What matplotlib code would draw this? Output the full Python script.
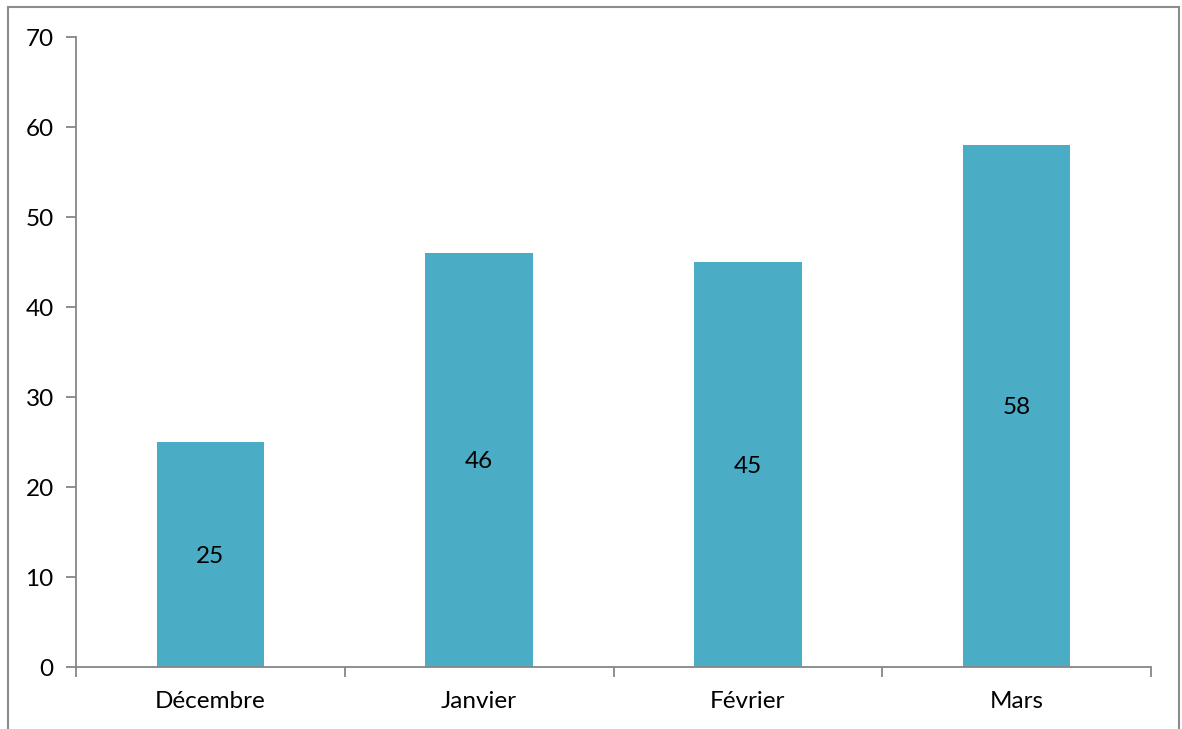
import numpy as np
import matplotlib
matplotlib.use('Agg')
import matplotlib.pyplot as plt
from matplotlib.lines import Line2D

months = ['Décembre', 'Janvier', 'Février', 'Mars']
values = [25, 46, 45, 58]

plt.rcParams['font.family'] = ['Lato', 'DejaVu Sans']

W, H = 1182, 729
fig = plt.figure(figsize=(W / 100, H / 100), dpi=100)
ax = fig.add_axes([76 / W, 1 - 667 / H, (1151 - 76) / W, (667 - 37) / H])

x = np.arange(len(months))
bars = ax.bar(x, values, width=0.4, color='#4BACC6', zorder=2)
for xi, v in zip(x, values):
    ax.text(xi, v / 2, str(v), ha='center', va='center_baseline', fontsize=17.5, color='black')

ax.set_xlim(-0.5, len(months) - 0.5)
ax.set_ylim(0, 70)
ax.set_yticks(range(0, 71, 10))
ax.set_xticks(x)
ax.set_xticklabels(months)
ax.set_xticks(np.arange(-0.5, len(months), 1), minor=True)
ax.tick_params(axis='x', which='major', length=0, pad=17, labelsize=17.5)
ax.tick_params(axis='x', which='minor', length=7, width=1.3, color='#868686', direction='out')
ax.tick_params(axis='y', length=7, width=1.3, color='#868686', direction='out', pad=9, labelsize=17.5)

for s in ['top', 'right']:
    ax.spines[s].set_visible(False)
for s in ['left', 'bottom']:
    ax.spines[s].set_color('#868686')
    ax.spines[s].set_linewidth(1.3)

# chart frame (bottom edge falls outside the image)
c = '#8c8c8c'
fig.add_artist(Line2D([8 / W, 8 / W], [0, 1 - 7 / H], color=c, lw=1.5))
fig.add_artist(Line2D([8 / W, 1179 / W], [1 - 7 / H, 1 - 7 / H], color=c, lw=1.5))
fig.add_artist(Line2D([1179 / W, 1179 / W], [0, 1 - 7 / H], color=c, lw=1.5))

fig.savefig('out.png', dpi=100)
